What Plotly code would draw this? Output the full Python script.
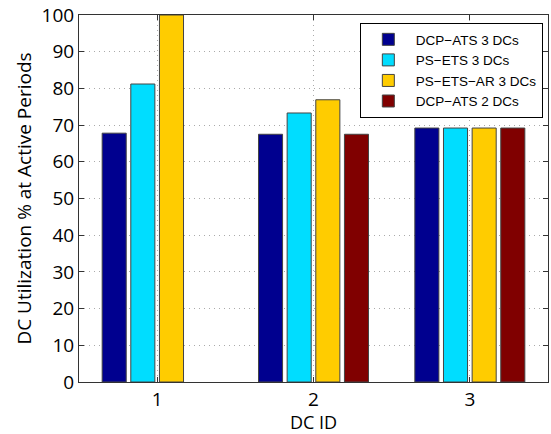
import plotly.graph_objects as go

categories = [1, 2, 3]
series_names = ["DCP\u2212ATS 3 DCs", "PS\u2212ETS 3 DCs", "PS\u2212ETS\u2212AR 3 DCs", "DCP\u2212ATS 2 DCs"]
dcp_ats_3 = [67.8, 67.5, 69.2]
ps_ets_3 = [81.2, 73.3, 69.2]
ps_ets_ar_3 = [100.0, 76.9, 69.2]
dcp_ats_2 = [None, 67.5, 69.2]
colors = ["#00008F", "#00DDFF", "#FFCC00", "#800000"]
y_ticks = list(range(0, 101, 10))

fig = go.Figure()
for name, vals, col in zip(series_names, [dcp_ats_3, ps_ets_3, ps_ets_ar_3, dcp_ats_2], colors):
    fig.add_trace(go.Bar(x=categories, y=vals, name=name,
                         marker=dict(color=col, line=dict(color="#444444", width=1))))

axis_font = dict(family="Open Sans, DejaVu Sans, sans-serif", size=19, color="black")
title_font = dict(family="Open Sans, DejaVu Sans, sans-serif", size=18, color="black")
fig.update_layout(
    width=551, height=434,
    margin=dict(l=79, r=2, t=11, b=52),
    paper_bgcolor="white", plot_bgcolor="white",
    barmode="group", bargap=0.267, bargroupgap=0.16,
    font=axis_font,
    legend=dict(x=0.989, y=0.978, xanchor="right", yanchor="top",
                bgcolor="white", bordercolor="black", borderwidth=1,
                font=dict(family="Liberation Sans, Arial, sans-serif", size=13.5, color="black"),
                tracegroupgap=0, itemwidth=45),
    xaxis=dict(range=[0.5, 3.5], tickvals=categories, ticktext=[str(c) for c in categories],
               showline=True, linecolor="#333333", linewidth=1, mirror="ticks",
               ticks="inside", ticklen=5, tickcolor="#333333",
               showgrid=True, gridcolor="#AAAAAA", griddash="1px,4px", gridwidth=1,
               zeroline=False, tickfont=axis_font),
    yaxis=dict(range=[0, 100], tickvals=y_ticks, ticktext=[str(v) for v in y_ticks],
               ticklabeloverflow="allow",
               title=dict(text="DC Utilization % at Active Periods", font=axis_font, standoff=4),
               showline=True, linecolor="#333333", linewidth=1, mirror="ticks",
               ticks="inside", ticklen=5, tickcolor="#333333",
               showgrid=True, gridcolor="#AAAAAA", griddash="1px,4px", gridwidth=1,
               zeroline=False, tickfont=axis_font),
    annotations=[dict(text="DC ID", xref="paper", yref="paper", x=0.5, y=-0.108,
                      xanchor="center", yanchor="middle", showarrow=False, font=title_font)],
)
fig.write_html("out.html")
